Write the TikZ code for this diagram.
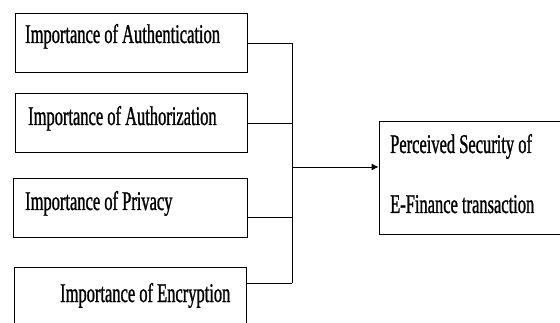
\documentclass[tikz,border=0pt]{standalone}
\usepackage{fontspec}
\newfontfamily\condfont[FakeStretch=0.61,FakeBold=1]{Liberation Serif}
\usetikzlibrary{arrows.meta}
\begin{document}
\begin{tikzpicture}[x=1pt,y=-1pt]

      % Styles for the factor boxes and their texts
      \tikzset{factor/.style={draw, line width=0.9pt, minimum width=232pt, minimum height=59pt, inner sep=0pt},
               boxtext/.style={anchor=base west, inner sep=0pt, font=\condfont\fontsize{27}{27}\selectfont}}

      % Define dimensions
      \def\busx{292}    % x of the vertical collecting line

      \useasboundingbox (0,0) rectangle (560,323);

      % The four factor boxes
      \node [factor] (auth)  at (131,42.5) {};
      \node [factor] (authz) at (131,122.5) {};
      \node [factor, minimum width=234pt] (priv) at (130,207.5) {};
      \node [factor, minimum height=73pt] (encr) at (130,303.5) {};

      % The outcome box (runs off the right edge)
      \node [factor, minimum width=196pt, minimum height=113pt] (sec) at (477,177.5) {};

      % Texts
      \node [boxtext] (t1) at (25,43) {Importance of Authentication};
      \node [boxtext] (t2) at (28,125) {Importance of Authorization};
      \node [boxtext] (t3) at (25,210) {Importance of Privacy};
      \node [boxtext] (t4) at (60,302) {Importance of Encryption};
      \node [boxtext] (t5) at (390,153) {Perceived Security of};
      \node [boxtext] (t6) at (390,213) {E-Finance transaction};

      % Junctions on the collecting line
      \coordinate (j1) at (\busx,43);
      \coordinate (j2) at (\busx,123);
      \coordinate (j3) at (\busx,217);
      \coordinate (j4) at (\busx,283);
      \coordinate (jm) at (\busx,167);

      % Connectors
      \draw [line width=0.9pt] (j1 -| auth.east) -- (j1);
      \draw [line width=0.9pt] (j2 -| authz.east) -- (j2);
      \draw [line width=0.9pt] (j3 -| priv.east) -- (j3);
      \draw [line width=0.9pt] (j4 -| encr.east) -- (j4);
      \draw [line width=0.9pt] (j1) -- (j4);
      \draw [line width=0.9pt, -{Latex[length=7pt,width=7pt]}] (jm) -- (jm -| sec.west);

   \end{tikzpicture}
\end{document}
